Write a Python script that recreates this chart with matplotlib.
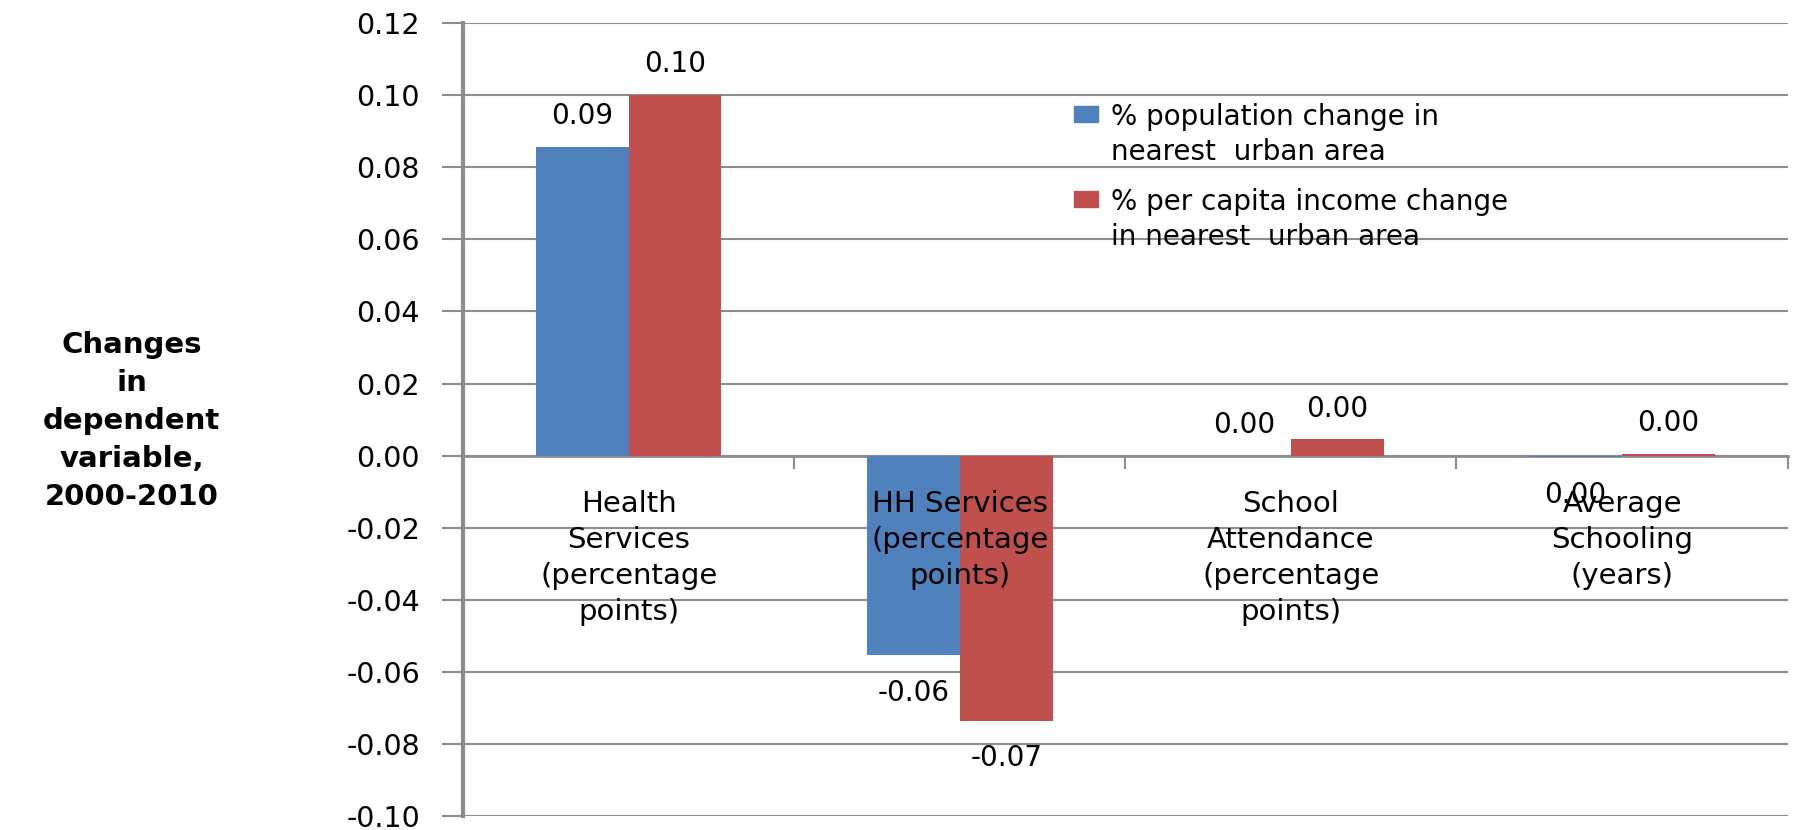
import matplotlib.pyplot as plt
from matplotlib.patches import Rectangle
import numpy as np

plt.rcParams['font.family'] = ['DejaVu Sans']
plt.rcParams['axes.unicode_minus'] = False

categories = ["Health\nServices\n(percentage\npoints)",
              "HH Services\n(percentage\npoints)",
              "School\nAttendance\n(percentage\npoints)",
              "Average\nSchooling\n(years)"]
population = [0.0857, -0.0554, 0.0, -0.0005]
income = [0.1002, -0.0736, 0.0045, 0.0005]
series_names = ["% population change in\nnearest  urban area",
                "% per capita income change\nin nearest  urban area"]
yticks = np.round(np.arange(-0.10, 0.121, 0.02), 2)

blue = "#4F81BD"
red = "#C0504D"
grid_gray = "#8C8C8C"

W, H = 1802, 830
fig = plt.figure(figsize=(W / 100, H / 100), dpi=100)
ax = fig.add_axes([0.257, 0.017, 0.735, 0.955])

x = np.arange(len(categories))
w = 0.28
b1 = ax.bar(x - w / 2, population, w, color=blue, zorder=3)
b2 = ax.bar(x + w / 2, income, w, color=red, zorder=3)


def fmt(v):
    s = f"{v:.2f}"
    return "0.00" if s == "-0.00" else s


for bars, vals in [(b1, population), (b2, income)]:
    labels = ax.bar_label(bars, labels=[fmt(v) for v in vals], padding=12, fontsize=20)
    for t, v in zip(labels, vals):
        if v < 0:
            t.xyann = (t.xyann[0], t.xyann[1] - 5)

ax.set_xlim(-0.5, len(categories) - 0.5)
ax.set_ylim(-0.10, 0.12)
ax.set_yticks(yticks)
ax.set_yticklabels([f"{t:.2f}" for t in yticks], fontsize=20.5)
ax.yaxis.grid(True, color=grid_gray, linewidth=1.5)
ax.yaxis.set_zorder(0)
ax.tick_params(axis='y', direction='out', length=15, width=1.5, color=grid_gray, pad=16)

# category axis sits on the zero line, its labels drawn over the bars
for side in ["top", "right"]:
    ax.spines[side].set_visible(False)
ax.spines["left"].set_color(grid_gray)
ax.spines["left"].set_linewidth(3)
ax.spines["bottom"].set_position(("data", 0))
ax.spines["bottom"].set_color(grid_gray)
ax.spines["bottom"].set_linewidth(2)
ax.xaxis.set_zorder(5)
ax.set_xticks(x)
ax.set_xticklabels(categories, fontsize=21, linespacing=1.36, va='top')
ax.set_xticks(np.arange(0.5, len(categories), 1.0), minor=True)
ax.tick_params(axis='x', which='major', length=0, pad=25)
ax.tick_params(axis='x', which='minor', direction='out', length=9, width=1.5, color=grid_gray)

fig.text(0.073, 0.493, "Changes\nin\ndependent\nvariable,\n2000-2010",
         ha='center', va='center', fontsize=21, fontweight='bold', linespacing=1.45)

# legend: key squares sit beside the first line of each label
for i, (name, col) in enumerate(zip(series_names, [blue, red])):
    top = 106 + 85 * i
    fig.add_artist(Rectangle((1074 / W, 1 - (top + 16) / H), 24 / W, 16 / H,
                             transform=fig.transFigure, color=col))
    fig.text(1111 / W, 1 - (top - 3) / H, name, ha='left', va='top',
             fontsize=20, linespacing=1.31)

fig.savefig("out.png", dpi=100)
